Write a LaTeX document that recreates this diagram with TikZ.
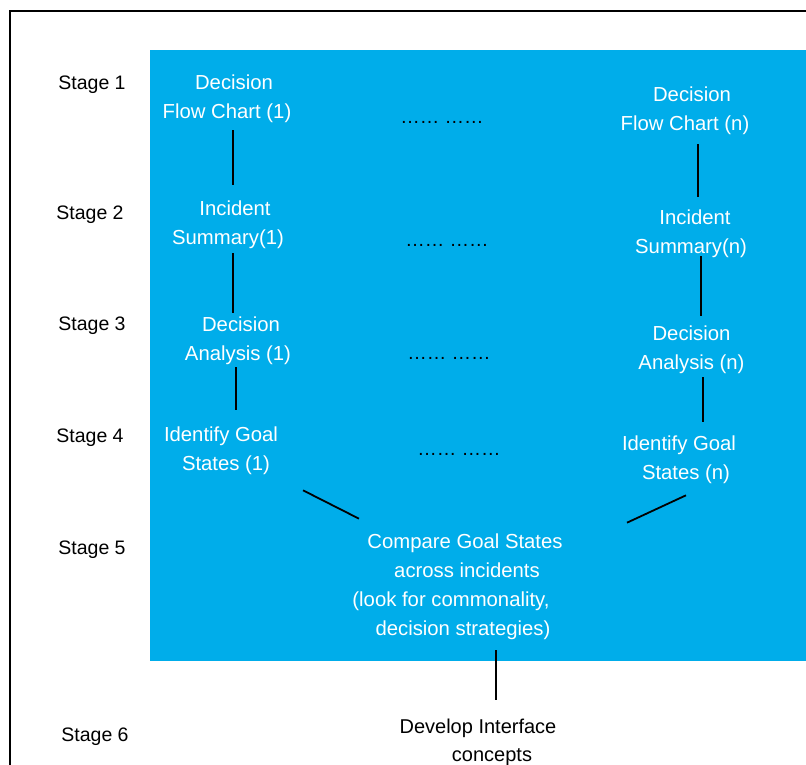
\documentclass[tikz,border=0pt]{standalone}
\usepackage{fontspec}
\setmainfont{Liberation Sans}
\usetikzlibrary{calc}
\definecolor{stageblue}{RGB}{0,173,234}
\begin{document}
\begin{tikzpicture}[x=1pt,y=-1pt,
  wtext/.style={text=white, font=\fontsize{20.3}{29}\selectfont, align=center, inner sep=0pt},
  btext/.style={text=black, font=\fontsize{20}{28}\selectfont, align=center, inner sep=0pt},
  stagelabel/.style={text=black, font=\fontsize{19.5}{29}\selectfont, inner sep=0pt},
  dotrow/.style={text=black, font=\fontsize{19.5}{29}\selectfont, inner sep=0pt},
  conn/.style={line width=1.8pt, draw=black}]
\useasboundingbox (0,0) rectangle (806,765);
\clip (0,0) rectangle (806,765);
\fill[stageblue] (150,50) rectangle (830,661);
\draw[line width=2pt] (9.5,800) -- (9.5,11) -- (830,11);

% stage labels
\node[stagelabel] (s1) at (92,84.85) {Stage 1};
\node[stagelabel] (s2) at (90,214.85) {Stage 2};
\node[stagelabel] (s3) at (92,325.85) {Stage 3};
\node[stagelabel] (s4) at (90,437.85) {Stage 4};
\node[stagelabel] (s5) at (92,549.85) {Stage 5};
\node[stagelabel] (s6) at (95,736.85) {Stage 6};

% left column
\node[wtext] (fc1) at (230.5,98.35) {\hspace*{7pt}Decision\\\hspace*{-7pt}Flow Chart (1)};
\node[wtext] (is1) at (231.5,224.35) {\hspace*{7pt}Incident\\\hspace*{-7pt}Summary(1)};
\node[wtext] (da1) at (239.5,340.35) {\hspace*{3pt}Decision\\\hspace*{-3pt}Analysis (1)};
\node[wtext] (ig1) at (223.5,450.85) {\hspace*{-5pt}Identify Goal\\\hspace*{5pt}States (1)};

% right column
\node[wtext] (fcn) at (688.5,110.35) {\hspace*{7pt}Decision\\\hspace*{-7pt}Flow Chart (n)};
\node[wtext] (isn) at (693,233.35) {\hspace*{4pt}Incident\\\hspace*{-4pt}Summary(n)};
\node[wtext] (dan) at (691.5,349.35) {Decision\\Analysis (n)};
\node[wtext] (ign) at (682.5,459.85) {\hspace*{-7pt}Identify Goal\\\hspace*{7pt}States (n)};

% dots
\node[dotrow] (d1) at (442,122) {…… ……};
\node[dotrow] (d2) at (447,245) {…… ……};
\node[dotrow] (d3) at (449,358) {…… ……};
\node[dotrow] (d4) at (459,454) {…… ……};

% compare and develop
\node[wtext] (cmp) at (461.5,586.35) {\hspace*{7pt}Compare Goal States\\\hspace*{11pt}across incidents\\\hspace*{-21pt}(look for commonality,\\\hspace*{3pt}decision strategies)};
\node[btext] (dev) at (485,741.85) {\hspace*{-14pt}Develop Interface\\\hspace*{14pt}concepts};

% connector x positions
\coordinate (xa) at (233,0);
\coordinate (xb) at (236,0);
\coordinate (xc) at (698,0);
\coordinate (xd) at (701,0);
\coordinate (xe) at (703,0);
\coordinate (xf) at (496,0);

\draw[conn, shorten <=7.8pt, shorten >=15.5pt] (fc1.south -| xa) -- (is1.north -| xa);
\draw[conn, shorten <=4.8pt, shorten >=3.5pt] (is1.south -| xa) -- (da1.north -| xa);
\draw[conn, shorten <=2.8pt, shorten >=17pt] (da1.south -| xb) -- (ig1.north -| xb);
\draw[conn, shorten <=9.8pt, shorten >=12.5pt] (fcn.south -| xc) -- (isn.north -| xc);
\draw[conn, shorten <=-1.2pt, shorten >=9.5pt] (isn.south -| xd) -- (dan.north -| xd);
\draw[conn, shorten <=3.8pt, shorten >=14pt] (dan.south -| xe) -- (ign.north -| xe);
\draw[conn] ($(ig1.south)+(79.5,15.3)$) -- ($(cmp.north)+(-102.5,-14.5)$);
\draw[conn] ($(ign.south)+(3.5,11.3)$) -- ($(cmp.north)+(165.5,-10.5)$);
\draw[conn, shorten <=10.8pt, shorten >=17.9pt] (cmp.south -| xf) -- (dev.north -| xf);
\end{tikzpicture}
\end{document}
